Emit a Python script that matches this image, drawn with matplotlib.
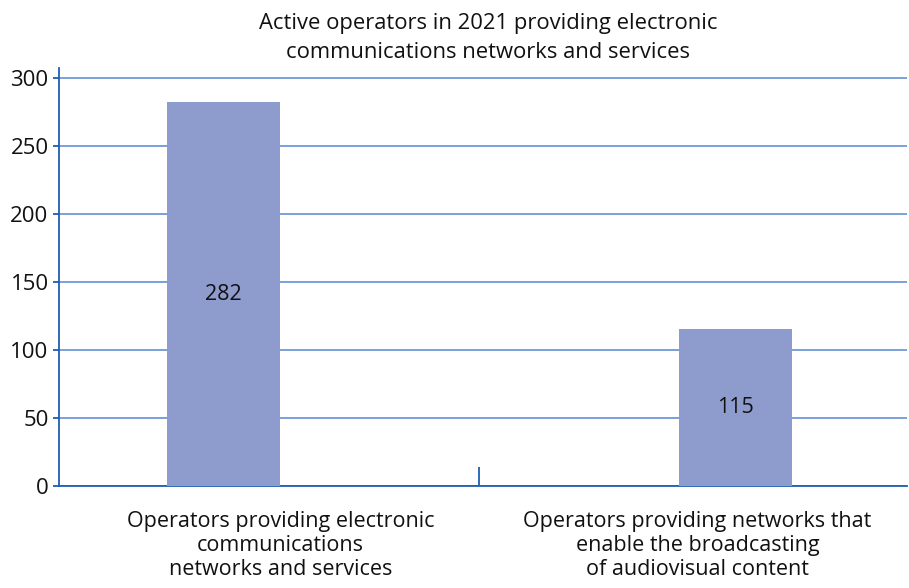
import matplotlib
matplotlib.use("Agg")
import matplotlib.pyplot as plt
from matplotlib.transforms import offset_copy

categories = ["Operators providing electronic\ncommunications\nnetworks and services",
              "Operators providing networks that\nenable the broadcasting\nof audiovisual content"]
values = [282, 115]
value_labels = ["282", "115"]
yticks = [0, 50, 100, 150, 200, 250, 300]
title = "Active operators in 2021 providing electronic\ncommunications networks and services"

plt.rcParams['font.family'] = ['Open Sans', 'DejaVu Sans']

fig = plt.figure(figsize=(9.09, 5.88), dpi=100)
ax = fig.add_axes([59/909, 1-486/588, 848/909, (486-68)/588])

bar_color = '#8e9bcd'
axis_color = '#1f5fb4'
grid_color = '#6f98d4'
fs = 15.5

x = list(range(len(categories)))
ax.bar(x, values, width=0.22, color=bar_color, zorder=3)
for xi, v, lab in zip(x, values, value_labels):
    ax.text(xi, v/2, lab, ha='center', va='center', fontsize=fs, color='#111111', zorder=4)

ax.set_xlim(-0.321, 1.335)
ax.set_ylim(0, 307)
ax.set_yticks(yticks)
ax.set_yticklabels([str(t) for t in yticks], fontsize=16, color='#111111')
ax.yaxis.grid(True, color=grid_color, linewidth=1.3, zorder=0)
ax.set_axisbelow(True)

# category labels, shifted toward the centre of each category band
ax.set_xticks(x)
ax.set_xticklabels([])
ax.tick_params(axis='x', which='major', length=0)
label_shift_px = [57, -38]
for xi, cat, dx in zip(x, categories, label_shift_px):
    tr = offset_copy(ax.get_xaxis_transform(), fig=fig, x=dx, y=-25, units='dots')
    ax.text(xi, 0, cat, transform=tr, ha='center', va='top', fontsize=fs,
            color='#111111', linespacing=1.2)

ax.set_xticks([0.5], minor=True)
ax.tick_params(axis='x', which='minor', direction='in', length=13.5, width=1.3, color=axis_color)
ax.tick_params(axis='y', direction='out', length=4.5, width=1.3, color=axis_color, pad=3)

for s in ['top', 'right']:
    ax.spines[s].set_visible(False)
for s in ['left', 'bottom']:
    ax.spines[s].set_color(axis_color)
    ax.spines[s].set_linewidth(1.3)

fig.text(488/909, 1-38/588, title, ha='center', va='center', fontsize=15.8, color='#111111', linespacing=1.5)

fig.savefig("out.png", dpi=100)
